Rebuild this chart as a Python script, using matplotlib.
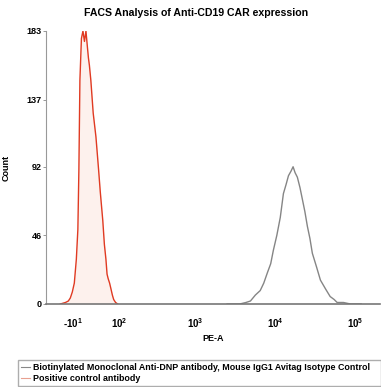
import numpy as np
import matplotlib
matplotlib.use('Agg')
import matplotlib.pyplot as plt

# PE-A values and counts
red_x = [-37, -26, -20, -16, -12, -8, -4, -1, 1, 3, 6, 9, 12, 15, 18, 20, 22, 25,
         30, 36, 42, 46, 52, 56, 60, 63, 66, 70, 74, 78, 82, 88, 95]
red_y = [0, 1, 2, 4, 8, 14, 30, 50, 90, 150, 178, 183, 176, 183, 172, 165, 160, 150,
         128, 112, 90, 75, 56, 40, 30, 20, 17, 14, 10, 6, 3, 1, 0]

gray_x = [2500, 3600, 4300, 4900, 5650, 6500, 7200, 8000, 8800, 9500, 10500, 11600,
          12700, 13700, 14700, 15800, 16800, 17800, 19000, 20500, 22000, 23600, 25400,
          27300, 29300, 33000, 37000, 43000, 49000, 55000, 60000, 72000, 88000, 120000]
gray_y = [0, 0, 1, 2, 6, 9, 14, 21, 27, 36, 46, 58, 74, 80, 86, 89, 92, 88, 85, 78,
          70, 62, 52, 44, 34, 25, 16, 10, 5, 3, 1, 1, 0, 0]

y_ticks = [0, 46, 92, 137, 183]
x_ticks = [-10, 100, 1000, 10000, 100000]
x_labels = [r'-$\mathbf{10^1}$', r'$\mathbf{10^2}$', r'$\mathbf{10^3}$',
            r'$\mathbf{10^4}$', r'$\mathbf{10^5}$']
labels = ['Biotinylated Monoclonal Anti-DNP antibody, Mouse IgG1 Avitag Isotype Control',
          'Positive control antibody']

W = 68.0


def fwd(x):
    return np.arcsinh(np.asarray(x, dtype=float) / W)


def inv(u):
    return W * np.sinh(np.asarray(u, dtype=float))


plt.rcParams['font.family'] = ['Liberation Sans', 'DejaVu Sans']
plt.rcParams['mathtext.fontset'] = 'custom'
plt.rcParams['mathtext.bf'] = 'Liberation Sans:bold'
plt.rcParams['mathtext.rm'] = 'Liberation Sans'
fig = plt.figure(figsize=(3.81, 3.87), dpi=100)
ax = fig.add_axes([0.121, 0.2145, 0.876, 0.7054])
ax.set_xscale('function', functions=(fwd, inv))

ax.fill_between(red_x, red_y, color='#f8c8b8', alpha=0.25, lw=0)
ax.plot(red_x, red_y, color='#e03a22', lw=1.0)
ax.plot(gray_x, gray_y, color='#858585', lw=1.0)

ax.set_xlim(-73, 206000)
ax.set_ylim(0, 183)
ax.set_yticks(y_ticks)
ax.set_yticklabels([str(v) for v in y_ticks], fontsize=6.5, fontweight='bold')
ax.set_xticks(x_ticks)
ax.set_xticklabels(x_labels, fontsize=7, fontweight='bold')
ax.xaxis.set_minor_locator(matplotlib.ticker.NullLocator())
ax.tick_params(axis='x', length=0, pad=9)
ax.tick_params(axis='y', length=2, width=0.6, pad=1, color='#888888')
for s in ['top', 'right']:
    ax.spines[s].set_visible(False)
ax.spines['left'].set_color('#999999')
ax.spines['bottom'].set_color('#777777')
ax.spines['bottom'].set_linewidth(1.2)

ax.set_xlabel('PE-A', fontsize=6.5, fontweight='bold', labelpad=3)
ax.set_ylabel('Count', fontsize=6.5, fontweight='bold', labelpad=12)
fig.text(0.515, 0.966, 'FACS Analysis of Anti-CD19 CAR expression', ha='center',
         va='center', fontsize=7.6, fontweight='bold')

h1, = ax.plot([], [], color='#888888', lw=0.8)
h2, = ax.plot([], [], color='#e8a090', lw=0.8)
fig.legend([h1, h2], labels, loc='lower left', bbox_to_anchor=(0.047, 0.003, 0.953, 0.072),
           mode='expand', prop={'weight': 'bold', 'size': 6.4},
           frameon=True, fancybox=False, edgecolor='#999999', handlelength=1.0,
           handletextpad=0.4, labelspacing=0.2, borderpad=0.35, borderaxespad=0)

fig.savefig('out.png', dpi=100)
